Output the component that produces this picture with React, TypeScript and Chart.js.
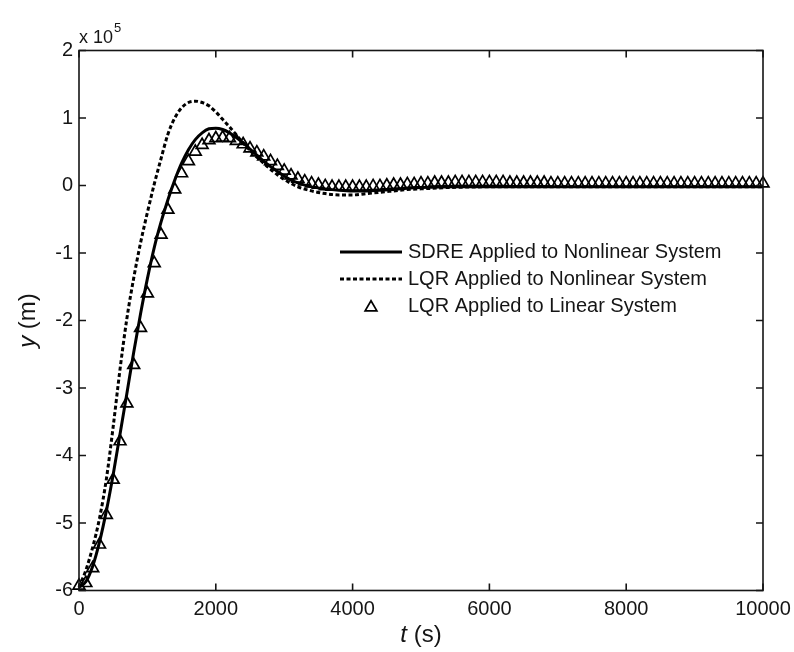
import { useEffect, useRef } from "react";
import { Chart, registerables } from "chart.js";

Chart.register(...registerables);

const FONT = "'Liberation Sans', Arial, Helvetica, sans-serif";
const INK = "#151515";

// Axis ticks (y values in units of 1e5 m)
const xTickValues = [0, 2000, 4000, 6000, 8000, 10000];
const yTickValues = [-6, -5, -4, -3, -2, -1, 0, 1, 2];

// SDRE applied to nonlinear system (solid)
const sdreT = [0, 100, 200, 300, 400, 500, 600, 700, 800, 900, 1000, 1100, 1200, 1300, 1400, 1500, 1600, 1700, 1800, 1900, 2000, 2100, 2200, 2300, 2400, 2500, 2600, 2700, 2800, 2900, 3000, 3100, 3200, 3400, 3600, 3800, 4000, 4200, 4400, 4600, 4800, 5000, 5500, 6000, 7000, 8000, 9000, 10000];
const sdreY = [-5.95, -5.87, -5.64, -5.28, -4.82, -4.28, -3.68, -3.08, -2.47, -1.90, -1.38, -0.92, -0.54, -0.21, 0.08, 0.33, 0.53, 0.68, 0.78, 0.84, 0.85, 0.83, 0.78, 0.71, 0.63, 0.54, 0.45, 0.36, 0.28, 0.21, 0.14, 0.08, 0.04, -0.02, -0.05, -0.07, -0.08, -0.08, -0.07, -0.06, -0.04, -0.03, -0.02, -0.02, -0.02, -0.02, -0.02, -0.02];

// LQR applied to nonlinear system (dashed)
const lqrNlT = [0, 100, 200, 300, 400, 500, 600, 700, 800, 900, 1000, 1100, 1200, 1300, 1400, 1500, 1600, 1700, 1800, 1900, 2000, 2100, 2200, 2300, 2400, 2500, 2600, 2700, 2800, 2900, 3000, 3100, 3200, 3400, 3600, 3800, 4000, 4200, 4400, 4600, 4800, 5000, 5400, 6000, 7000, 8000, 9000, 10000];
const lqrNlY = [-5.95, -5.70, -5.36, -4.93, -4.35, -3.57, -2.72, -1.97, -1.37, -0.85, -0.40, 0.02, 0.40, 0.76, 1.00, 1.15, 1.23, 1.25, 1.23, 1.18, 1.09, 0.98, 0.87, 0.75, 0.63, 0.52, 0.42, 0.33, 0.24, 0.16, 0.09, 0.03, -0.02, -0.08, -0.12, -0.14, -0.14, -0.12, -0.10, -0.08, -0.06, -0.05, -0.03, -0.02, -0.02, -0.02, -0.02, -0.02];

// LQR applied to linear system (triangle markers every 100 s)
const lqrLinT = [0, 100, 200, 300, 400, 500, 600, 700, 800, 900, 1000, 1100, 1200, 1300, 1400, 1500, 1600, 1700, 1800, 1900, 2000, 2100, 2200, 2300, 2400, 2500, 2600, 2700, 2800, 2900, 3000, 3100, 3200, 3300, 3400, 3500, 3600, 3700, 3800, 3900, 4000, 4100, 4200, 4300, 4400, 4500, 4600, 4700, 4800, 4900, 5000, 5100, 5200, 5300, 5400, 5500, 5600, 5700, 5800, 5900, 6000, 6100, 6200, 6300, 6400, 6500, 6600, 6700, 6800, 6900, 7000, 7100, 7200, 7300, 7400, 7500, 7600, 7700, 7800, 7900, 8000, 8100, 8200, 8300, 8400, 8500, 8600, 8700, 8800, 8900, 9000, 9100, 9200, 9300, 9400, 9500, 9600, 9700, 9800, 9900, 10000];
const lqrLinY = [-5.93, -5.89, -5.67, -5.32, -4.88, -4.36, -3.79, -3.23, -2.66, -2.11, -1.60, -1.15, -0.73, -0.36, -0.06, 0.18, 0.36, 0.50, 0.60, 0.67, 0.70, 0.71, 0.70, 0.66, 0.61, 0.55, 0.49, 0.43, 0.36, 0.29, 0.22, 0.15, 0.10, 0.06, 0.03, 0.01, -0.01, -0.02, -0.02, -0.02, -0.02, -0.02, -0.02, -0.01, -0.01, 0.00, 0.01, 0.01, 0.02, 0.02, 0.03, 0.03, 0.04, 0.04, 0.04, 0.05, 0.05, 0.05, 0.05, 0.05, 0.05, 0.05, 0.05, 0.04, 0.04, 0.04, 0.04, 0.04, 0.04, 0.03, 0.03, 0.03, 0.03, 0.03, 0.03, 0.03, 0.03, 0.03, 0.03, 0.03, 0.03, 0.03, 0.03, 0.03, 0.03, 0.03, 0.03, 0.03, 0.03, 0.03, 0.03, 0.03, 0.03, 0.03, 0.03, 0.03, 0.03, 0.03, 0.03, 0.03, 0.03];

const seriesLabels = [
  "SDRE Applied to Nonlinear System",
  "LQR Applied to Nonlinear System",
  "LQR Applied to Linear System",
];

const TRI_R = 6.8;
const TRI_W = 1.7;

const toPoints = (t: number[], y: number[]) => t.map((v, i) => ({ x: v, y: y[i] }));

const framePlugin = {
  id: "frame",
  afterDatasetsDraw(chart: any) {
    const { ctx, chartArea: a, scales } = chart;
    const x = scales.x;
    const y = scales.y;
    ctx.save();
    ctx.strokeStyle = INK;
    ctx.lineWidth = 1.6;
    ctx.strokeRect(a.left, a.top, a.right - a.left, a.bottom - a.top);
    const L = 7;
    ctx.beginPath();
    x.ticks.forEach((t: any) => {
      const px = x.getPixelForValue(t.value);
      ctx.moveTo(px, a.bottom);
      ctx.lineTo(px, a.bottom - L);
      ctx.moveTo(px, a.top);
      ctx.lineTo(px, a.top + L);
    });
    y.ticks.forEach((t: any) => {
      const py = y.getPixelForValue(t.value);
      ctx.moveTo(a.left, py);
      ctx.lineTo(a.left + L, py);
      ctx.moveTo(a.right, py);
      ctx.lineTo(a.right - L, py);
    });
    ctx.stroke();
    ctx.restore();
  },
};

const textPlugin = {
  id: "texts",
  afterDraw(chart: any) {
    const { ctx, chartArea: a } = chart;
    ctx.save();
    ctx.fillStyle = INK;
    ctx.textBaseline = "alphabetic";
    ctx.textAlign = "left";

    // exponent label
    ctx.font = `18px ${FONT}`;
    ctx.fillText("x 10", a.left, 43);
    const w10 = ctx.measureText("x 10").width;
    ctx.font = `13px ${FONT}`;
    ctx.fillText("5", a.left + w10 + 1, 32);

    // x axis title: italic t + (s)
    const size = 24;
    const itF = `italic ${size}px ${FONT}`;
    const rmF = `${size}px ${FONT}`;
    ctx.font = itF;
    const wt = ctx.measureText("t").width;
    ctx.font = rmF;
    const ws = ctx.measureText(" (s)").width;
    const cx = (a.left + a.right) / 2;
    let sx = cx - (wt + ws) / 2;
    ctx.font = itF;
    ctx.fillText("t", sx, 642);
    ctx.font = rmF;
    ctx.fillText(" (s)", sx + wt, 642);

    // y axis title: italic y + (m), rotated
    ctx.font = itF;
    const wy = ctx.measureText("y").width;
    ctx.font = rmF;
    const wm = ctx.measureText(" (m)").width;
    ctx.translate(35, (a.top + a.bottom) / 2);
    ctx.rotate(-Math.PI / 2);
    sx = -(wy + wm) / 2;
    ctx.font = itF;
    ctx.fillText("y", sx, 0);
    ctx.font = rmF;
    ctx.fillText(" (m)", sx + wy, 0);
    ctx.restore();

    // legend
    ctx.save();
    const rows = [252, 279, 306];
    const x0 = 340;
    const x1 = 402;
    const tx = 408;
    chart.data.datasets.forEach((ds: any, i: number) => {
      const ry = rows[i];
      ctx.strokeStyle = "#000";
      if (ds.showLine === false) {
        const r = TRI_R;
        const mx = (x0 + x1) / 2;
        const cy = ry + 1.5;
        ctx.lineWidth = TRI_W;
        ctx.beginPath();
        ctx.moveTo(mx, cy - r);
        ctx.lineTo(mx + Math.sin((2 * Math.PI) / 3) * r, cy - Math.cos((2 * Math.PI) / 3) * r);
        ctx.lineTo(mx + Math.sin((4 * Math.PI) / 3) * r, cy - Math.cos((4 * Math.PI) / 3) * r);
        ctx.closePath();
        ctx.stroke();
      } else {
        ctx.lineWidth = ds.borderWidth;
        ctx.setLineDash(ds.borderDash || []);
        ctx.beginPath();
        ctx.moveTo(x0, ry);
        ctx.lineTo(x1, ry);
        ctx.stroke();
        ctx.setLineDash([]);
      }
      ctx.fillStyle = INK;
      ctx.font = `20px ${FONT}`;
      ctx.textBaseline = "middle";
      ctx.textAlign = "left";
      ctx.fillText(ds.label, tx, ry);
    });
    ctx.restore();
  },
};

export default function App() {
  const ref = useRef<HTMLCanvasElement>(null);

  useEffect(() => {
    if (!ref.current) return;
    const chart = new Chart(ref.current, {
      type: "line",
      data: {
        datasets: [
          {
            label: seriesLabels[0],
            data: toPoints(sdreT, sdreY),
            borderColor: "#000",
            borderWidth: 3,
            pointRadius: 0,
            cubicInterpolationMode: "monotone",
            fill: false,
            clip: false,
            order: 2,
          },
          {
            label: seriesLabels[1],
            data: toPoints(lqrNlT, lqrNlY),
            borderColor: "#000",
            borderWidth: 3,
            borderDash: [4, 2.5],
            pointRadius: 0,
            cubicInterpolationMode: "monotone",
            fill: false,
            clip: false,
            order: 1,
          },
          {
            label: seriesLabels[2],
            data: toPoints(lqrLinT, lqrLinY),
            showLine: false,
            pointStyle: "triangle",
            pointRadius: TRI_R,
            pointBorderWidth: TRI_W,
            pointBorderColor: "#000",
            pointBackgroundColor: "rgba(255,255,255,0)",
            clip: false,
            order: 0,
          },
        ],
      } as any,
      options: {
        animation: false,
        responsive: false,
        maintainAspectRatio: false,
        layout: { padding: { top: 50.5, right: 31, left: 0, bottom: 0 } },
        plugins: { legend: { display: false }, tooltip: { enabled: false } },
        scales: {
          x: {
            type: "linear",
            min: 0,
            max: 10000,
            afterBuildTicks: (s: any) => {
              s.ticks = xTickValues.map((v) => ({ value: v }));
            },
            ticks: {
              font: { family: FONT, size: 20 },
              color: INK,
              padding: 7,
              maxRotation: 0,
              autoSkip: false,
              callback: (v: any) => String(v),
            },
            grid: { display: false, drawTicks: false },
            border: { display: false },
            afterFit: (s: any) => {
              s.height = 61.5;
              s.paddingLeft = 0;
              s.paddingRight = 0;
            },
          },
          y: {
            type: "linear",
            min: -6,
            max: 2,
            afterBuildTicks: (s: any) => {
              s.ticks = yTickValues.map((v) => ({ value: v }));
            },
            ticks: {
              font: { family: FONT, size: 20 },
              color: INK,
              padding: 6,
              autoSkip: false,
              callback: (v: any) => String(v),
            },
            grid: { display: false, drawTicks: false },
            border: { display: false },
            afterFit: (s: any) => {
              s.width = 79;
              s.paddingTop = 0;
              s.paddingBottom = 0;
            },
          },
        },
      } as any,
      plugins: [framePlugin, textPlugin],
    });
    return () => chart.destroy();
  }, []);

  return (
    <div style={{ position: "fixed", left: 0, top: 0, width: 794, height: 652, background: "#fff" }}>
      <canvas ref={ref} width={794} height={652} style={{ display: "block" }} />
    </div>
  );
}
